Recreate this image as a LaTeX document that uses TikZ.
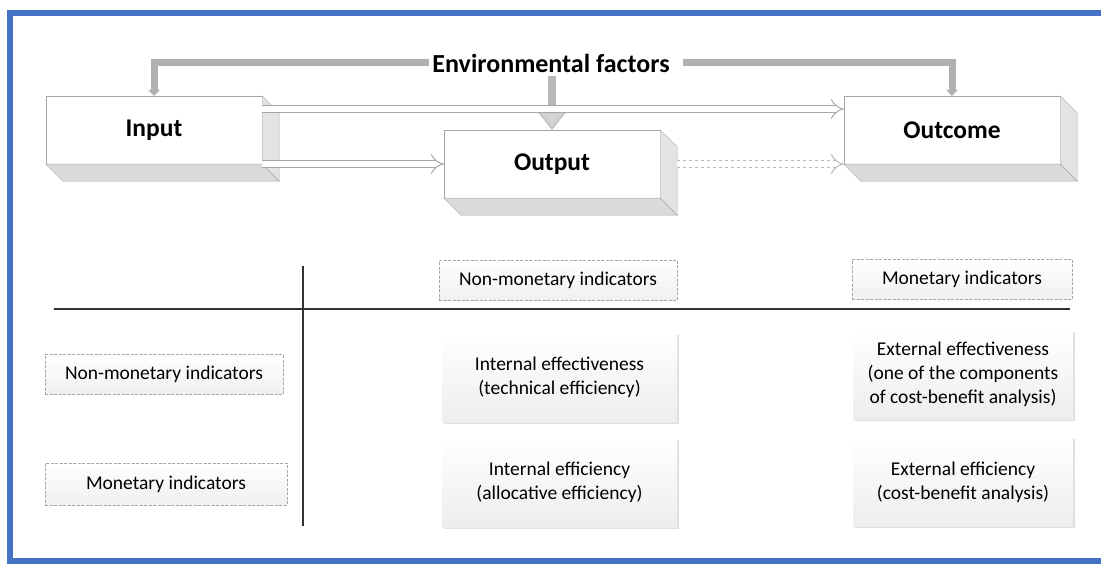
\documentclass[tikz,border=0pt]{standalone}
\usepackage{fontspec}
\setmainfont{Carlito}
\usetikzlibrary{arrows.meta,shadows}

\definecolor{frameblue}{RGB}{68,114,196}

\begin{document}
\begin{tikzpicture}
  [
  x=1pt, y=-1pt,
  boxnode/.style={draw=gray!70, fill=white, minimum width=216pt, minimum height=68pt, inner sep=0pt, font=\fontsize{25.5}{30}\selectfont\bfseries},
  sidefill/.style={draw=gray!70, fill=gray!22},
  hdrnode/.style={draw=gray!70, dash pattern=on 3pt off 1.5pt, top color=white, bottom color=gray!12, minimum height=40pt, inner sep=0pt, font=\fontsize{19.5}{24}\selectfont},
  cellnode/.style={top color=white, bottom color=gray!14, minimum height=89pt, align=center, inner sep=0pt, font=\fontsize{19.5}{24}\selectfont, drop shadow={opacity=0.25, shadow xshift=1.5pt, shadow yshift=-1.5pt}},
  flowarrow/.style={draw=gray!70, line width=1pt, double=white, double distance=6pt, -{Implies}},
  envarrow/.style={draw=gray!62, line width=7pt, -{Triangle[width=12pt,length=6pt]}}
  ]
  \useasboundingbox (0,0) rectangle (1101,564);
  \draw[frameblue, line width=6pt] (10,13) rectangle (1120,561);

  \node[font=\fontsize{26}{30}\selectfont\bfseries] (env) at (551,63) {Environmental factors};
  \node[boxnode] (inp) at (154,130) {Input};
  \node[boxnode] (outp) at (552,164) {Output};
  \node[boxnode] (outc) at (952,130) {Outcome};

  % box depth
  \foreach \b in {inp,outp,outc} {
    \filldraw[sidefill] (\b.north east) -- ++(17,17) -- ([shift={(17,17)}]\b.south east) -- (\b.south east) -- cycle;
    \filldraw[sidefill, fill=gray!28] (\b.south west) -- (\b.south east) -- ++(17,17) -- ([shift={(17,17)}]\b.south west) -- cycle;
  }

  % environment
  \draw[envarrow] (env.west) -| (inp.north);
  \draw[envarrow, shorten <=10pt] (env.east) -| (outc.north);
  \draw[draw=gray!55, line width=8pt, -{Triangle[width=30pt,length=19pt,line width=1pt,fill=gray!35]}] (outp.north |- env.south) -- (outp.north);

  % flows
  \draw[flowarrow] ([yshift=21pt]inp.east) -- ([yshift=21pt]outc.west);
  \draw[flowarrow] (inp.east |- outp.west) -- (outp.west);
  \draw[flowarrow, dashed, draw=gray!55] ([xshift=17pt]outp.east) -- (outc.west |- outp.east);

  % table
  \draw[line width=1.8pt, draw=black!80] (54,309) -- (1070,309);
  \draw[line width=1.5pt, draw=black!80] (303,266) -- (303,526);

  \node[hdrnode, minimum width=238pt] (colnon) at (558,280.5) {Non-monetary indicators};
  \node[hdrnode, minimum width=220pt] (colmon) at (962,279.5) {Monetary indicators};
  \node[hdrnode, minimum width=238pt] (rownon) at (164,374.5) {Non-monetary indicators};
  \node[hdrnode, minimum width=242pt, minimum height=42pt] (rowmon) at (166,484) {Monetary indicators};

  \node[cellnode, minimum width=235pt] (inteff) at (559.5,377.5) {Internal effectiveness\\(technical efficiency)};
  \node[cellnode, minimum width=235pt] (intefc) at (559.5,482.5) {Internal efficiency\\(allocative efficiency)};
  \node[cellnode, minimum width=220pt] (exteff) at (963,374.5) {External effectiveness\\(one of the components\\of cost-benefit analysis)};
  \node[cellnode, minimum width=220pt] (extefc) at (963,482) {External efficiency\\(cost-benefit analysis)};
\end{tikzpicture}
\end{document}
